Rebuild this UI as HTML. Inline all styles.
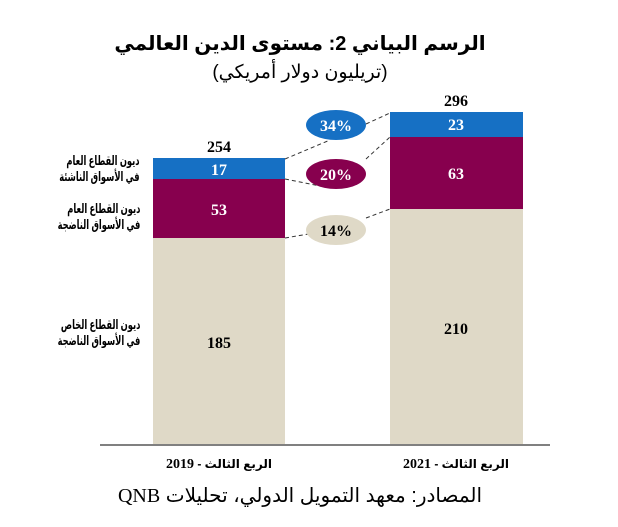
<!DOCTYPE html>
<html><head><meta charset="utf-8"><style>
body{margin:0;background:#fff;width:618px;height:527px;overflow:hidden;position:relative}
text{font-family:"Liberation Serif","DejaVu Sans",serif}
.ar{font-family:"Liberation Sans","DejaVu Sans",sans-serif;position:absolute;white-space:nowrap}
.lbl{right:478px;text-align:right;direction:rtl;font-size:13px;font-weight:bold;line-height:16px;transform:scaleX(0.64);transform-origin:right center}
.ax{direction:rtl;text-align:center;width:200px;font-size:12px;font-weight:bold;top:457px}
.ax b{font-family:"Liberation Serif",serif;font-size:14px}
</style></head><body>
<svg width="618" height="527" viewBox="0 0 618 527" style="position:absolute;left:0;top:0">
<rect x="153" y="158" width="132" height="21" fill="#1670c4"/>
<rect x="153" y="179" width="132" height="59" fill="#87004e"/>
<rect x="153" y="238" width="132" height="207" fill="#dfd9c7"/>
<rect x="390" y="112" width="133" height="25" fill="#1670c4"/>
<rect x="390" y="137" width="133" height="72" fill="#87004e"/>
<rect x="390" y="209" width="133" height="236" fill="#dfd9c7"/>
<line x1="100" y1="445" x2="550" y2="445" stroke="#808080" stroke-width="2"/>
<g stroke="#333" stroke-width="1" stroke-dasharray="4,3" fill="none">
<line x1="285" y1="159" x2="330" y2="140"/><line x1="366" y1="124" x2="390" y2="113"/>
<line x1="285" y1="179" x2="330" y2="188"/><line x1="366" y1="159" x2="390" y2="137"/>
<line x1="285" y1="238" x2="320" y2="232"/><line x1="366" y1="218" x2="390" y2="209"/>
</g>
<ellipse cx="336" cy="125" rx="30" ry="15" fill="#1670c4"/>
<ellipse cx="336" cy="174" rx="30" ry="15" fill="#87004e"/>
<ellipse cx="336" cy="230" rx="30" ry="15" fill="#dfd9c7"/>
<g font-weight="bold" font-size="16" text-anchor="middle">
<text x="336" y="131" fill="#fff">34%</text>
<text x="336" y="180" fill="#fff">20%</text>
<text x="336" y="236" fill="#000">14%</text>
<text x="219" y="152">254</text>
<text x="456" y="106">296</text>
<text x="219" y="175" fill="#fff">17</text>
<text x="219" y="215" fill="#fff">53</text>
<text x="219" y="348">185</text>
<text x="456" y="130" fill="#fff">23</text>
<text x="456" y="179" fill="#fff">63</text>
<text x="456" y="334">210</text>
</g>
</svg>
<div class="ar" style="left:0;width:600px;text-align:center;top:31px;font-size:20px;font-weight:bold;direction:rtl">الرسم البياني 2: مستوى الدين العالمي</div>
<div class="ar" style="left:0;width:600px;text-align:center;top:61px;font-size:19px;direction:rtl">(تريليون دولار أمريكي)</div>
<div class="ar lbl" style="top:153px">ديون القطاع العام<br>في الأسواق الناشئة</div>
<div class="ar lbl" style="top:201px">ديون القطاع العام<br>في الأسواق الناضجة</div>
<div class="ar lbl" style="top:317px">ديون القطاع الخاص<br>في الأسواق الناضجة</div>
<div class="ar ax" style="left:119px">الربع الثالث - <b>2019</b></div>
<div class="ar ax" style="left:356px">الربع الثالث - <b>2021</b></div>
<div class="ar" style="left:0;width:600px;text-align:center;top:483px;font-size:20px;direction:rtl">المصادر: معهد التمويل الدولي، تحليلات <span style="font-family:'Liberation Serif',serif">QNB</span></div>
</body></html>
